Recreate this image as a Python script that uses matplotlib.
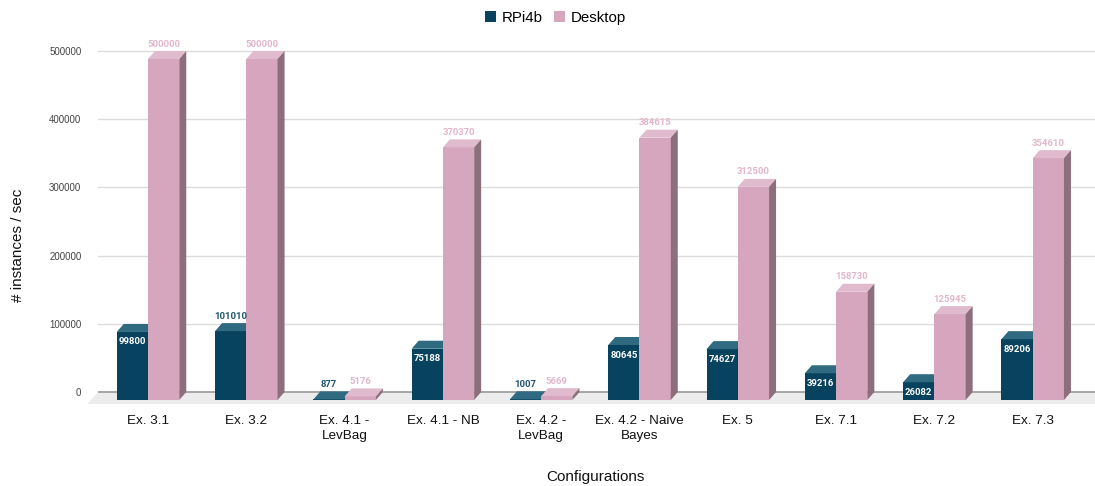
import numpy as np
import matplotlib
matplotlib.use("Agg")
import matplotlib.pyplot as plt
from matplotlib.patches import Polygon, Patch

# Throughput per configuration (instances / sec)
categories = ["Ex. 3.1", "Ex. 3.2", "Ex. 4.1 -\nLevBag", "Ex. 4.1 - NB",
              "Ex. 4.2 -\nLevBag", "Ex. 4.2 - Naive\nBayes", "Ex. 5",
              "Ex. 7.1", "Ex. 7.2", "Ex. 7.3"]
rpi4b = [99800, 101010, 877, 75188, 1007, 80645, 74627, 39216, 26082, 89206]
desktop = [500000, 500000, 5176, 370370, 5669, 384615, 312500, 158730, 125945, 354610]
yticks = [0, 100000, 200000, 300000, 400000, 500000]

# colours: front, top, side faces
DARK = ("#07435f", "#2f6a80", "#06344a")
PINK = ("#d5a6bd", "#e0bacd", "#8d6e7d")
DARK_LABEL = "#1f5470"
PINK_LABEL = "#e2b6cb"

plt.rcParams["font.family"] = ["Liberation Sans", "DejaVu Sans"]

W, H = 1095, 486
fig = plt.figure(figsize=(W / 100, H / 100), dpi=100)

# axes geometry (pixel based)
px_per_val = 341 / 500000
ylo, yhi = -20000, 530000
ax_left_px, ax_right_px = 98, 1095
zero_px = 392
bottom_px = zero_px + (-ylo) * px_per_val
top_px = zero_px - yhi * px_per_val
ax = fig.add_axes([ax_left_px / W, (H - bottom_px) / H,
                   (ax_right_px - ax_left_px) / W, (bottom_px - top_px) / H])

px_per_cat = 98.3
x0_px = 148
ax.set_xlim((ax_left_px - x0_px) / px_per_cat, (ax_right_px - x0_px) / px_per_cat)
ax.set_ylim(ylo, yhi)

# 3D depth offsets in data units
DX = 7 / px_per_cat
DY = 8 / px_per_val
FDX = 11 / px_per_cat
FDY = 12 / px_per_val

for s in ax.spines.values():
    s.set_visible(False)

# grid on the back wall
xl, xr = ax.get_xlim()
for t in yticks[1:]:
    ax.axhline(t, color="#dcdcdc", lw=1.0, zorder=0)

# floor
floor = Polygon([(xl, 0), (xr + 1, 0), (xr + 1 - FDX, -FDY), (xl - FDX, -FDY)],
                closed=True, facecolor="#ececec", edgecolor="none",
                zorder=0.5, clip_on=False)
ax.add_patch(floor)
ax.axhline(0, color="#9a9a9a", lw=1.2, zorder=0.6)

x = np.arange(len(categories))
bw = 0.318
off = 0.159


def draw_bar(xc, v, cols):
    front, top, side = cols
    ax.bar(xc, v, width=bw, bottom=-DY, color=front, edgecolor="none", zorder=2)
    xa, xb = xc - bw / 2, xc + bw / 2
    ytop = v - DY
    ax.add_patch(Polygon([(xa, ytop), (xb, ytop), (xb + DX, v), (xa + DX, v)],
                         closed=True, facecolor=top, edgecolor="none", zorder=2))
    ax.add_patch(Polygon([(xb, -DY), (xb + DX, 0), (xb + DX, v), (xb, ytop)],
                         closed=True, facecolor=side, edgecolor="none", zorder=2))


lab_kw = dict(textcoords="offset pixels", ha="center", va="center",
              fontsize=6.8, fontweight="bold", family=["Roboto", "DejaVu Sans"],
              zorder=5)

for i in x:
    draw_bar(i - off, rpi4b[i], DARK)
    draw_bar(i + off, desktop[i], PINK)

    v = rpi4b[i]
    txt = str(v)
    if len(txt) > 5 or v < 20000:
        ax.annotate(txt, (i - off, v), xytext=(0, 7), color=DARK_LABEL, **lab_kw)
    else:
        ax.annotate(txt, (i - off, v - DY), xytext=(0, -10), color="white", **lab_kw)

    v = desktop[i]
    ax.annotate(str(v), (i + off, v), xytext=(0, 7), color=PINK_LABEL, **lab_kw)

ax.set_yticks(yticks)
ax.set_yticklabels([str(t) for t in yticks])
ax.tick_params(axis="y", length=0, pad=12, labelsize=7, labelcolor="#444444")
ax.set_xticks(x)
ax.set_xticklabels(categories, linespacing=1.35)
ax.tick_params(axis="x", length=0, pad=6.5, labelsize=9.7, labelcolor="#111111")

fig.text(18 / W, 1 - 245 / H, "# instances / sec", rotation=90,
         ha="center", va="center", fontsize=11, color="#111111")
fig.text(595 / W, 1 - 477 / H, "Configurations", ha="center", va="center",
         fontsize=11, color="#111111")

handles = [Patch(facecolor=DARK[0], label="RPi4b"),
           Patch(facecolor=PINK[0], label="Desktop")]
fig.legend(handles=handles, loc="center", bbox_to_anchor=(555.5 / W, 1 - 18 / H),
           ncol=2, frameon=False, fontsize=10.8, handlelength=0.75,
           handleheight=0.75, handletextpad=0.4, columnspacing=0.7)

fig.savefig("out.png", dpi=100, facecolor="white")
